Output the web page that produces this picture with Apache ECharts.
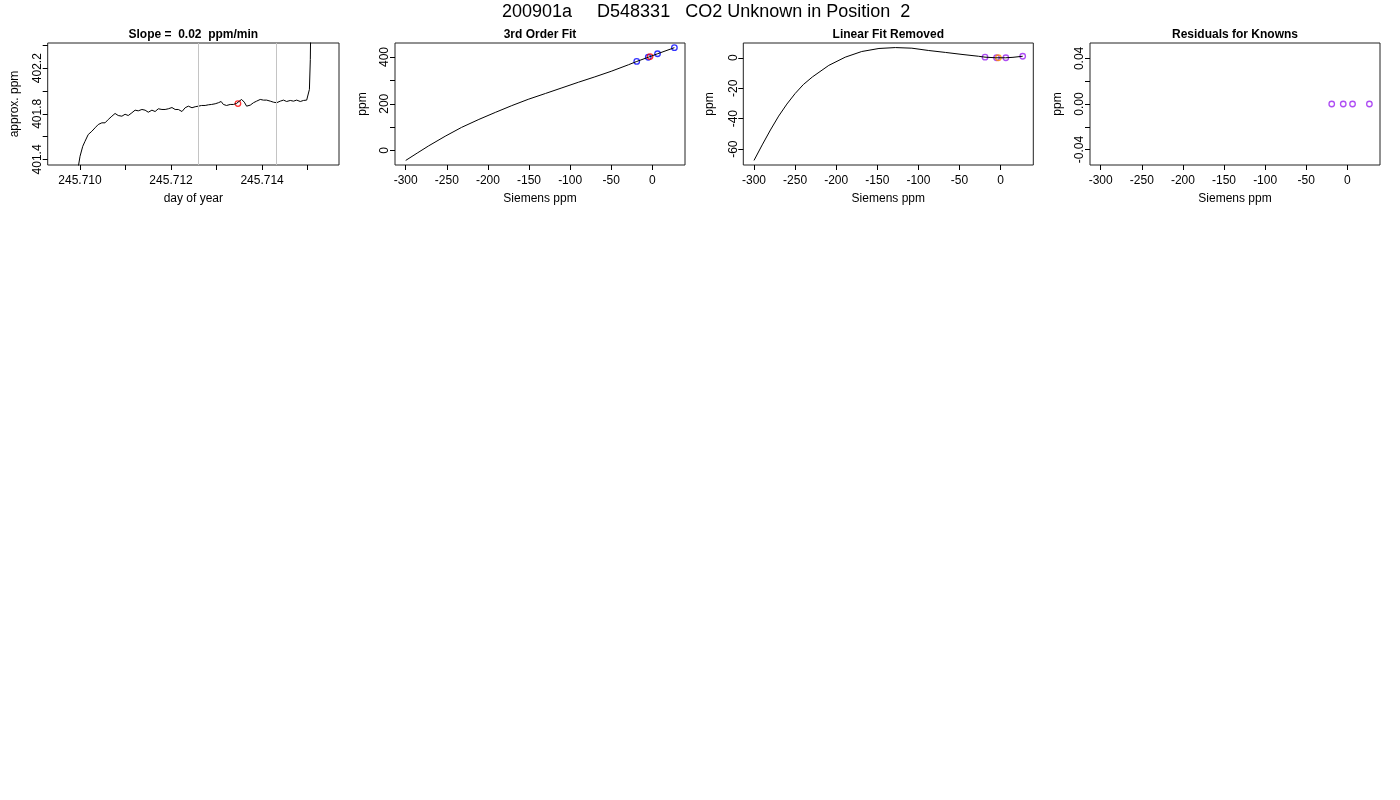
<!DOCTYPE html>
<html>
<head>
<meta charset="utf-8">
<script src="https://cdn.jsdelivr.net/npm/echarts@6.0.0/dist/echarts.min.js"></script>
<style>
    html, body { margin: 0; padding: 0; background: #fff; }
    #main { width: 1400px; height: 800px; }
</style>
</head>
<body>
<div id="main"></div>
<script>
    var mainTitle = '200901a     D548331   CO2 Unknown in Position  2';
    var panelTitles = ['Slope =  0.02  ppm/min', '3rd Order Fit', 'Linear Fit Removed', 'Residuals for Knowns'];

    // panel 1: approx. ppm against day of year
    var traceDay = [
        245.70996, 245.71000, 245.71006, 245.71011, 245.71018, 245.71026, 245.71033, 245.71040, 245.71048, 245.71055,
        245.71062, 245.71070, 245.71077, 245.71084, 245.71092, 245.71099, 245.71106, 245.71114, 245.71121, 245.71128,
        245.71136, 245.71143, 245.71150, 245.71158, 245.71165, 245.71172, 245.71180, 245.71187, 245.71194, 245.71202,
        245.71209, 245.71216, 245.71224, 245.71231, 245.71238, 245.71246, 245.71253, 245.71260, 245.71267, 245.71275,
        245.71282, 245.71289, 245.71297, 245.71304, 245.71310, 245.71315, 245.71322, 245.71330, 245.71337, 245.71344,
        245.71350, 245.71355, 245.71361, 245.71366, 245.71374, 245.71381, 245.71388, 245.71396, 245.71403, 245.71410,
        245.71418, 245.71425, 245.71432, 245.71440, 245.71447, 245.71454, 245.71462, 245.71469, 245.71476, 245.71484,
        245.71491, 245.71498, 245.71502, 245.71504, 245.71506, 245.71507
    ];
    var tracePpm = [
        401.33, 401.427, 401.515, 401.559, 401.618, 401.647, 401.677, 401.706, 401.721, 401.721,
        401.750, 401.779, 401.803, 401.785, 401.779, 401.796, 401.785, 401.809, 401.832, 401.826,
        401.838, 401.832, 401.814, 401.832, 401.820, 401.844, 401.838, 401.838, 401.844, 401.855,
        401.838, 401.838, 401.820, 401.853, 401.867, 401.853, 401.862, 401.867, 401.873, 401.873,
        401.879, 401.882, 401.888, 401.897, 401.908, 401.882, 401.873, 401.882, 401.882, 401.891,
        401.911, 401.926, 401.902, 401.867, 401.876, 401.897, 401.911, 401.926, 401.920, 401.920,
        401.911, 401.902, 401.897, 401.911, 401.920, 401.908, 401.917, 401.911, 401.920, 401.908,
        401.917, 401.920, 401.932, 402.014, 402.277, 402.6
    ];
    var unknownDay = 245.71347;
    var unknownApprox = 401.89;
    var windowDays = [245.7126, 245.71431];

    // panel 2: 3rd order fit
    var fitX = [-300, -286, -272, -252, -232, -211, -191, -171, -151, -130, -110, -90, -70, -50, -29, -19, -5, 6.3, 26.8];
    var fitY = [-42.5, -11, 20, 61, 99, 133, 163, 192, 219, 244, 268, 292, 315, 339, 367, 381, 399, 414, 440];
    var knownX = [-19, -5, 6.3, 26.8];
    var knownPpm = [381, 399, 414, 440];
    var unknownX = -2.8;
    var unknownPpm = 402;

    // panel 3: linear fit removed
    var removedX = [-300, -290, -280, -270, -260, -250, -240, -229, -209, -189, -169, -148, -128, -108, -88, -67, -47, -27, -19, -6, 6, 15, 26.8];
    var removedY = [-67.4, -57.2, -47.4, -38.3, -30.4, -23.5, -17.6, -12.6, -5.0, 0.4, 4.1, 6.1, 6.7, 6.3, 4.8, 3.5, 2.2, 1.0, 0.4, 0, 0, 0.3, 1.0];
    var knownRemoved = [0.4, 0, 0, 1.0];
    var unknownRemoved = 0;

    // panel 4: residuals
    var knownResid = [0, 0, 0, 0];

    // ticks and labels
    var dayTicks = [245.710, 245.711, 245.712, 245.713, 245.714, 245.715];
    var dayLabels = [245.710, 245.712, 245.714];
    var approxTicks = [401.4, 401.6, 401.8, 402.0, 402.2, 402.4];
    var approxLabels = [401.4, 401.8, 402.2];
    var siemensTicks = [-300, -250, -200, -150, -100, -50, 0];
    var fitTicks = [0, 100, 200, 300, 400];
    var fitLabels = [0, 200, 400];
    var removedTicks = [-60, -40, -20, 0];
    var residTicks = [-0.04, -0.02, 0, 0.02, 0.04];
    var residLabels = [-0.04, 0, 0.04];

    var FONT = 'Liberation Sans';
    var chart = echarts.init(document.getElementById('main'));

    function pairs(xs, ys) {
        return xs.map(function (x, i) { return [x, ys[i]]; });
    }

    var boxes = [
        { left: 47.7, width: 291.3 },
        { left: 395, width: 290 },
        { left: 743.3, width: 290 },
        { left: 1090, width: 290 }
    ];

    function xAxisFor(i, min, max, ticks, labels, name, fmt) {
        return {
            type: 'value', gridIndex: i, min: min, max: max,
            name: name, nameLocation: 'middle', nameGap: 28,
            nameTextStyle: { fontFamily: FONT, fontSize: 12, color: '#000' },
            axisLine: { show: false, onZero: false },
            axisTick: { show: true, inside: false, length: 5, customValues: ticks, lineStyle: { color: '#000' } },
            axisLabel: { customValues: labels, margin: 10, fontFamily: FONT, fontSize: 12, color: '#000', formatter: fmt },
            splitLine: { show: false }
        };
    }

    function yAxisFor(i, min, max, ticks, labels, name, gap, fmt) {
        return {
            type: 'value', gridIndex: i, min: min, max: max,
            name: name, nameLocation: 'middle', nameGap: gap, nameRotate: 90,
            nameTextStyle: { fontFamily: FONT, fontSize: 12, color: '#000' },
            axisLine: { show: false, onZero: false },
            axisTick: { show: true, inside: false, length: 5, customValues: ticks, lineStyle: { color: '#000' } },
            axisLabel: { customValues: labels, rotate: 90, margin: 4, fontFamily: FONT, fontSize: 12, color: '#000', formatter: fmt },
            splitLine: { show: false }
        };
    }

    function circles(name, i, data, color) {
        return {
            name: name, type: 'scatter', xAxisIndex: i, yAxisIndex: i,
            symbol: 'circle', symbolSize: 5.5,
            itemStyle: { color: 'rgba(0,0,0,0)', borderColor: color, borderWidth: 1.3 },
            data: data
        };
    }

    function curve(name, i, data) {
        return {
            name: name, type: 'line', xAxisIndex: i, yAxisIndex: i,
            showSymbol: false, smooth: false,
            lineStyle: { color: '#000', width: 1 },
            data: data
        };
    }

    var intLabel = function (v) { return String(Math.round(v)); };

    var titles = [{
        text: mainTitle, left: 502, top: 3, padding: 0,
        textStyle: { fontFamily: FONT, fontSize: 18, fontWeight: 'normal', color: '#000' }
    }];
    panelTitles.forEach(function (t, i) {
        titles.push({
            text: t, left: boxes[i].left + boxes[i].width / 2, textAlign: 'center', top: 29, padding: 0,
            textStyle: { fontFamily: FONT, fontSize: 12, fontWeight: 'bold', color: '#000' }
        });
    });

    var line1 = curve('trace', 0, pairs(traceDay, tracePpm));
    line1.markLine = {
        silent: true, symbol: 'none', precision: 6, label: { show: false },
        lineStyle: { color: '#c4c4c4', type: 'solid', width: 1 },
        data: windowDays.map(function (d) { return { xAxis: d }; })
    };

    var option = {
        animation: false,
        backgroundColor: '#fff',
        title: titles,
        grid: boxes.map(function (b) {
            return { left: b.left, width: b.width, top: 43, height: 122, show: true, borderColor: '#222', borderWidth: 1, backgroundColor: 'transparent' };
        }),
        xAxis: [
            xAxisFor(0, 245.70929, 245.71569, dayTicks, dayLabels, 'day of year', function (v) { return v.toFixed(3); }),
            xAxisFor(1, -313, 39.7, siemensTicks, siemensTicks, 'Siemens ppm', intLabel),
            xAxisFor(2, -313, 39.7, siemensTicks, siemensTicks, 'Siemens ppm', intLabel),
            xAxisFor(3, -313, 39.7, siemensTicks, siemensTicks, 'Siemens ppm', intLabel)
        ],
        yAxis: [
            yAxisFor(0, 401.351, 402.421, approxTicks, approxLabels, 'approx. ppm', 27, function (v) { return v.toFixed(1); }),
            yAxisFor(1, -62, 460, fitTicks, fitLabels, 'ppm', 26, intLabel),
            yAxisFor(2, -70.4, 9.7, removedTicks, removedTicks, 'ppm', 28, intLabel),
            yAxisFor(3, -0.0535, 0.0535, residTicks, residLabels, 'ppm', 26, function (v) { return v.toFixed(2); })
        ],
        series: [
            line1,
            circles('unknown', 0, [[unknownDay, unknownApprox]], '#ff0000'),
            curve('fit', 1, pairs(fitX, fitY)),
            circles('knowns', 1, pairs(knownX, knownPpm), '#0000ff'),
            circles('unknown', 1, [[unknownX, unknownPpm]], '#ff0000'),
            curve('removed', 2, pairs(removedX, removedY)),
            circles('knowns', 2, pairs(knownX, knownRemoved), '#9a20f0'),
            circles('unknown', 2, [[unknownX, unknownRemoved]], '#ff8c00'),
            circles('knowns', 3, pairs(knownX, knownResid), '#9a20f0')
        ]
    };

    chart.setOption(option);
</script>
</body>
</html>
